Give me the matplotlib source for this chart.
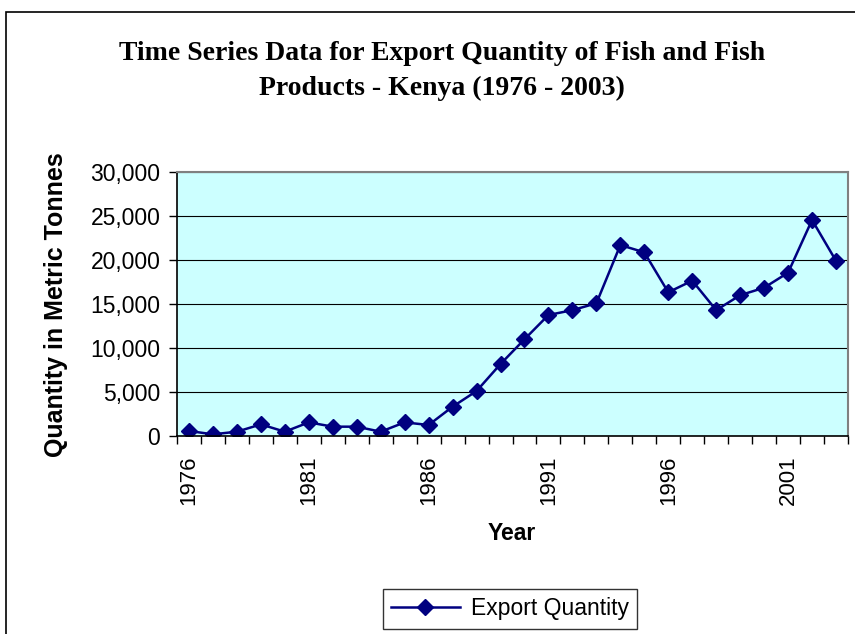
import numpy as np
import matplotlib.pyplot as plt
from matplotlib.patches import Rectangle
from matplotlib.ticker import FuncFormatter

years = list(range(1976, 2004))
export_qty = [570, 190, 490, 1320, 490, 1550, 1060, 1060, 490, 1550,
              1250, 3330, 5110, 8180, 10990, 13750, 14300, 15080, 21700, 20870,
              16330, 17650, 14300, 16000, 16850, 18560, 24550, 19900]

navy = "#000080"
plt.rcParams["font.family"] = ["Liberation Sans", "DejaVu Sans"]

fig = plt.figure(figsize=(8.55, 6.34), dpi=100)

# outer chart border
fig.patches.append(Rectangle((6 / 855, -0.05), 1.2, 1 - 12 / 634 + 0.05,
                             transform=fig.transFigure, fill=False,
                             edgecolor="black", linewidth=1.2))

ax = fig.add_axes([177 / 855, 1 - 436 / 634, (848 - 177) / 855, (436 - 172) / 634])
ax.set_facecolor("#CCFFFF")

x = np.arange(len(years))
ax.plot(x, export_qty, color=navy, linewidth=1.8, marker="D", markersize=8,
        label="Export Quantity")

ax.set_xlim(-0.5, len(years) - 0.5)
ax.set_ylim(0, 30000)
ax.set_yticks(np.arange(0, 30001, 5000))
ax.yaxis.set_major_formatter(FuncFormatter(lambda v, p: f"{int(v):,}"))
ax.grid(axis="y", color="black", linewidth=0.8)
ax.set_axisbelow(True)

# category labels every 5 years, tick marks between categories
ax.set_xticks(x[::5])
ax.set_xticklabels([str(years[i]) for i in x[::5]], rotation=90)
ax.set_xticks(np.arange(-0.5, len(years)), minor=True)
ax.tick_params(axis="x", which="major", length=0, pad=14, labelsize=16)
ax.tick_params(axis="x", which="minor", length=6, width=1)
ax.tick_params(axis="y", length=6, width=1, pad=6, labelsize=16.5)

for s in ("top", "right"):
    ax.spines[s].set_color("#808080")
    ax.spines[s].set_linewidth(1.5)
ax.spines["left"].set_linewidth(1.2)
ax.spines["bottom"].set_linewidth(1.2)

ax.set_xlabel("Year", fontsize=16.5, fontweight="bold")
ax.xaxis.set_label_coords((512 - 177) / 671, (436 - 533) / 264)
ax.set_ylabel("Quantity in Metric Tonnes", fontsize=18, fontweight="bold")
ax.yaxis.set_label_coords((56 - 177) / 671, (436 - 305) / 264)
ax.yaxis.label.set_verticalalignment("center")
ax.xaxis.label.set_verticalalignment("center")

fig.text(442 / 855, 1 - 71 / 634,
         "Time Series Data for Export Quantity of Fish and Fish\nProducts - Kenya (1976 - 2003)",
         ha="center", va="center", fontsize=20, fontweight="bold",
         family="Liberation Serif", linespacing=1.5)

leg = fig.legend(loc="center", bbox_to_anchor=(510 / 855, 1 - 609 / 634),
                 fontsize=16.5, frameon=True, fancybox=False, edgecolor="black",
                 handlelength=3.0, borderpad=0.35, handletextpad=0.5)
leg.get_frame().set_linewidth(1)

fig.savefig("out.png", dpi=100)
